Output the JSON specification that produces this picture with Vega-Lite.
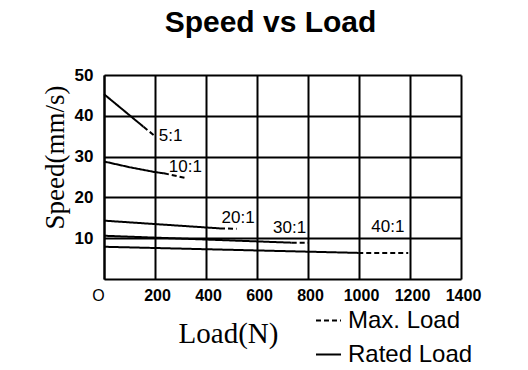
{
  "$schema": "https://vega.github.io/schema/vega-lite/v6.json",
  "autosize": {"type": "none"},
  "padding": {"left": 104, "top": 75, "right": 67, "bottom": 91},
  "width": 357,
  "height": 204,
  "background": "white",
  "title": {
    "text": "Speed vs Load",
    "font": "Liberation Sans",
    "fontSize": 30,
    "fontWeight": "bold",
    "color": "black",
    "anchor": "middle",
    "dx": -12,
    "dy": 37,
    "baseline": "bottom",
    "offset": 35
  },
  "config": {
    "view": {"stroke": null},
    "axis": {
      "domainColor": "black",
      "domainWidth": 2,
      "gridColor": "black",
      "gridWidth": 2,
      "gridOpacity": 1,
      "ticks": false,
      "tickSize": 0,
      "labelColor": "black",
      "titleColor": "black"
    }
  },
  "datasets": {
    "lines": [
      {"seg": "5a", "type": "Rated Load", "load": 0, "speed": 45.3},
      {"seg": "5a", "type": "Rated Load", "load": 155, "speed": 37.3},
      {"seg": "5b", "type": "Max. Load", "load": 155, "speed": 37.3},
      {"seg": "5b", "type": "Max. Load", "load": 200, "speed": 35},
      {"seg": "10a", "type": "Rated Load", "load": 0, "speed": 28.8},
      {"seg": "10a", "type": "Rated Load", "load": 100, "speed": 27.4},
      {"seg": "10a", "type": "Rated Load", "load": 200, "speed": 26.2},
      {"seg": "10a", "type": "Rated Load", "load": 235, "speed": 25.9},
      {"seg": "10b", "type": "Max. Load", "load": 235, "speed": 25.9},
      {"seg": "10b", "type": "Max. Load", "load": 318, "speed": 24.8},
      {"seg": "20a", "type": "Rated Load", "load": 0, "speed": 14.3},
      {"seg": "20a", "type": "Rated Load", "load": 455, "speed": 12.4},
      {"seg": "20b", "type": "Max. Load", "load": 455, "speed": 12.4},
      {"seg": "20b", "type": "Max. Load", "load": 520, "speed": 12.3},
      {"seg": "30a", "type": "Rated Load", "load": 0, "speed": 10.6},
      {"seg": "30a", "type": "Rated Load", "load": 736, "speed": 8.9},
      {"seg": "30b", "type": "Max. Load", "load": 736, "speed": 8.9},
      {"seg": "30b", "type": "Max. Load", "load": 801, "speed": 8.9},
      {"seg": "40a", "type": "Rated Load", "load": 0, "speed": 7.9},
      {"seg": "40a", "type": "Rated Load", "load": 997, "speed": 6.4},
      {"seg": "40b", "type": "Max. Load", "load": 997, "speed": 6.4},
      {"seg": "40b", "type": "Max. Load", "load": 1193, "speed": 6.4}
    ],
    "labels": [
      {"label": "5:1", "load": 261, "speed": 35},
      {"label": "10:1", "load": 319, "speed": 27.5},
      {"label": "20:1", "load": 526, "speed": 14.9},
      {"label": "30:1", "load": 728, "speed": 12.4},
      {"label": "40:1", "load": 1113, "speed": 12.7}
    ]
  },
  "layer": [
    {
      "data": {"name": "lines"},
      "mark": {"type": "line", "color": "black", "strokeWidth": 2},
      "encoding": {
        "x": {
          "field": "load", "type": "quantitative",
          "scale": {"domain": [0, 1400], "nice": false, "zero": true},
          "axis": {
            "values": [0, 200, 400, 600, 800, 1000, 1200, 1400],
            "title": "Load(N)",
            "titleFont": "Liberation Serif",
            "titleFontSize": 29,
            "titleFontWeight": "normal",
            "titleX": 124,
            "titleY": 63,
            "titleAlign": "center",
            "titleBaseline": "alphabetic",
            "labelFont": "Liberation Sans",
            "labelFontSize": 16,
            "labelFontWeight": {"condition": {"test": "datum.value == 0", "value": "normal"}, "value": "bold"},
            "labelOffset": {"condition": {"test": "datum.value == 0", "value": -6}, "value": 2},
            "labelPadding": 8,
            "labelExpr": "datum.value == 0 ? 'O' : datum.label",
            "format": "d",
            "labelFlush": false,
            "labelOverlap": false
          }
        },
        "y": {
          "field": "speed", "type": "quantitative",
          "scale": {"domain": [0, 50], "nice": false},
          "axis": {
            "values": [10, 20, 30, 40, 50],
            "title": "Speed(mm/s)",
            "titleFont": "Liberation Serif",
            "titleFontSize": 27,
            "titleFontWeight": "normal",
            "titleX": -41,
            "titleY": 82,
            "titleAngle": -90,
            "titleAlign": "center",
            "titleBaseline": "alphabetic",
            "labelFont": "Liberation Sans",
            "labelFontSize": 17,
            "labelFontWeight": "bold",
            "labelPadding": 11,
            "labelFlush": false,
            "labelOverlap": false
          }
        },
        "detail": {"field": "seg"},
        "strokeDash": {
          "field": "type", "type": "nominal",
          "scale": {"domain": ["Max. Load", "Rated Load"], "range": [[5, 3], [1, 0]]},
          "legend": {
            "title": null,
            "orient": "none",
            "legendX": 211,
            "legendY": 232,
            "padding": 0,
            "symbolType": "stroke",
            "symbolSize": 625,
            "symbolStrokeWidth": 2,
            "symbolStrokeColor": "black",
            "labelFont": "Liberation Sans",
            "labelFontSize": 24,
            "labelColor": "black",
            "labelOffset": 6,
            "rowPadding": 8,
            "labelLimit": 300
          }
        }
      }
    },
    {
      "data": {"name": "labels"},
      "mark": {"type": "text", "font": "Liberation Sans", "fontSize": 17, "color": "black", "align": "center", "baseline": "middle"},
      "encoding": {
        "x": {"field": "load", "type": "quantitative"},
        "y": {"field": "speed", "type": "quantitative"},
        "text": {"field": "label"}
      }
    }
  ]
}
